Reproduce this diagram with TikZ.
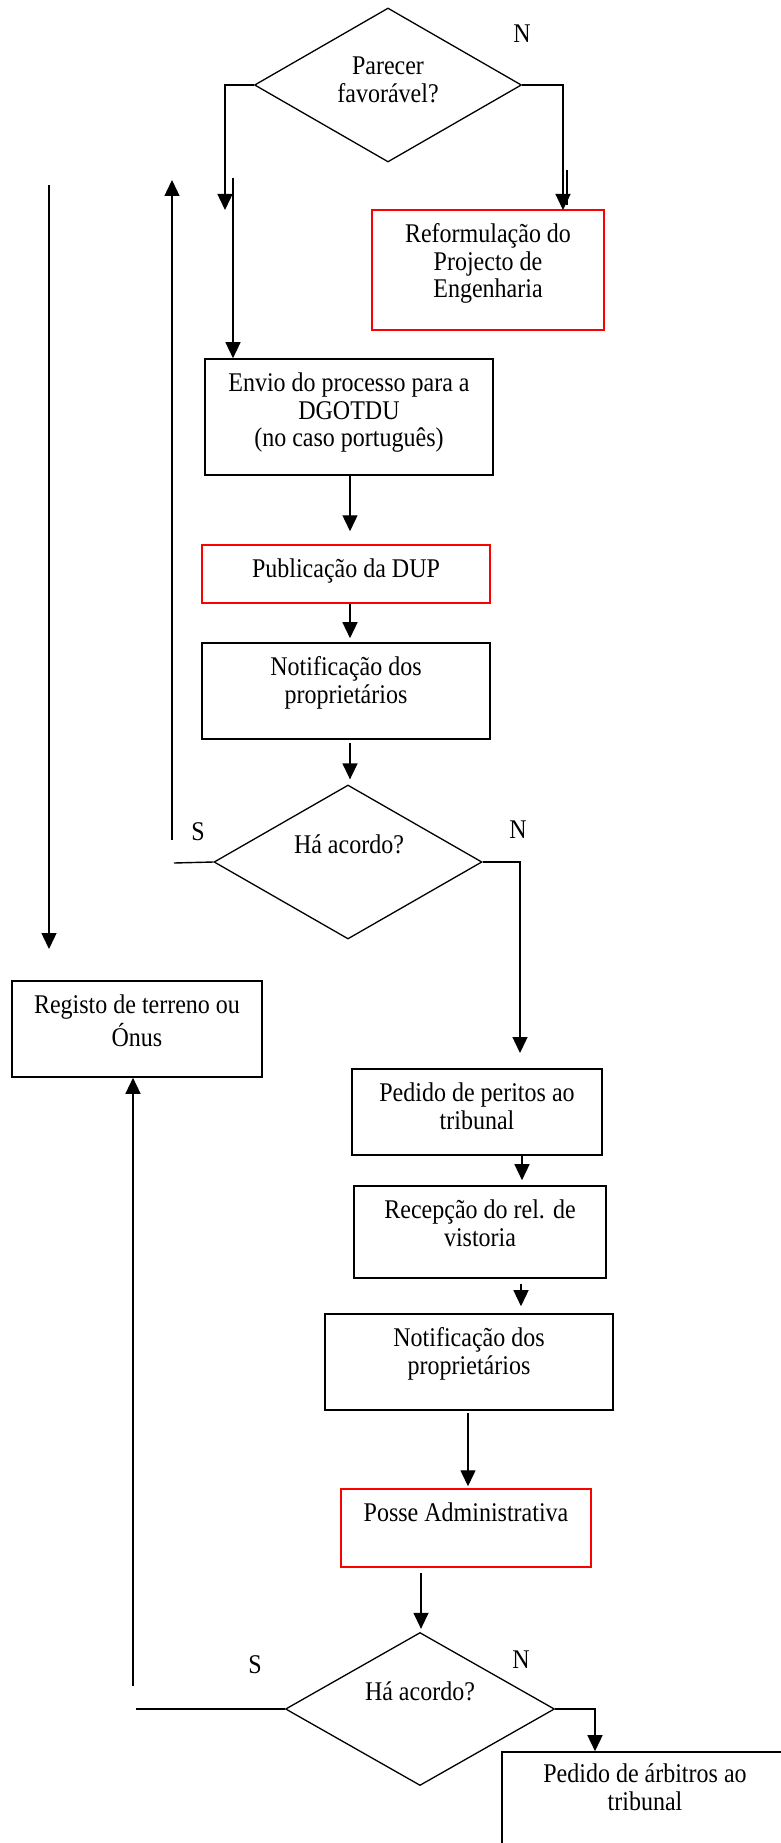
\documentclass[tikz,border=0pt]{standalone}
\usepackage{fontspec}
\setmainfont[FakeStretch=0.889]{Liberation Serif}
\usetikzlibrary{shapes.geometric,arrows.meta}
\begin{document}
\begin{tikzpicture}[x=1pt,y=-1pt,
  font=\fontsize{27}{27.6}\selectfont,
  stepbox/.style={draw=black,line width=1.6pt,inner sep=0pt},
  redbox/.style={draw=red,line width=1.5pt,inner sep=0pt},
  decision/.style={diamond,draw=black,line width=1.3pt,inner sep=0pt,aspect=1.73},
  txt/.style={inner sep=0pt,align=center,anchor=north},
  lbl/.style={inner sep=0pt,anchor=base},
  conn/.style={line width=1.4pt},
  arr/.style={conn,-{Triangle[length=16pt,width=15pt]}}]
\useasboundingbox (0,0) rectangle (781,1843);
\clip (0,0) rectangle (781,1843);

% decisions
\node[decision,minimum width=267pt,minimum height=154pt] (d1) at (388,85) {};
\node[decision,minimum width=268pt,minimum height=154pt] (d2) at (348,862) {};
\node[decision,minimum width=269pt,minimum height=153pt] (d3) at (420,1709) {};
\node[txt] (d1t) at (388,55) {\strut Parecer\\favorável?};
\node[lbl] (d2t) at (349,853) {Há acordo?};
\node[lbl] (d3t) at (420,1700) {Há acordo?};

% branch labels
\node[lbl] (n1) at (522,43) {N};
\node[lbl] (s2) at (198,840) {S};
\node[lbl] (n2) at (518,838) {N};
\node[lbl] (s3) at (255,1673) {S};
\node[lbl] (n3) at (521,1668) {N};

% process boxes
\node[redbox,minimum width=232pt,minimum height=120pt] (refo) at (488,270) {};
\node[stepbox,minimum width=288pt,minimum height=116pt] (envio) at (349,417) {};
\node[redbox,minimum width=288pt,minimum height=58pt] (pub) at (346,574) {};
\node[stepbox,minimum width=288pt,minimum height=96pt] (notif) at (346,691) {};
\node[stepbox,minimum width=250pt,minimum height=96pt] (registo) at (137,1029) {};
\node[stepbox,minimum width=250pt,minimum height=86pt] (peritos) at (477,1112) {};
\node[stepbox,minimum width=252pt,minimum height=92pt] (recep) at (480,1232) {};
\node[stepbox,minimum width=288pt,minimum height=96pt] (notifb) at (469,1362) {};
\node[redbox,minimum width=250pt,minimum height=78pt] (posse) at (466,1528) {};
\node[stepbox,minimum width=288pt,minimum height=96pt] (arb) at (646,1800) {};

% box texts
\node[txt] (refot) at ([yshift=-14pt]refo.north) {\strut Reformulação do\\Projecto de\\Engenharia};
\node[txt] (enviot) at ([yshift=-14pt]envio.north) {\strut Envio do processo para a\\DGOTDU\\(no caso português)};
\node[txt] (pubt) at ([yshift=-14pt]pub.north) {\strut Publicação da DUP};
\node[txt] (notift) at ([yshift=-14pt]notif.north) {\strut Notificação dos\\proprietários};
\node[txt] (registot) at ([yshift=-14pt]registo.north) {\strut Registo de terreno ou\\Ónus};
\node[txt] (peritost) at ([yshift=-14pt]peritos.north) {\strut Pedido de peritos ao\\tribunal};
\node[txt] (recept) at ([yshift=-14pt]recep.north) {\strut Recepção do rel. de\\vistoria};
\node[txt] (notifbt) at ([yshift=-14pt]notifb.north) {\strut Notificação dos\\proprietários};
\node[txt] (posset) at ([yshift=-14pt]posse.north) {\strut Posse Administrativa};
\node[txt] (arbt) at (645,1763) {\strut Pedido de árbitros ao\\tribunal};

% free ends of connectors
\coordinate (c1) at (225,210);
\coordinate (c2) at (233,178);
\coordinate (c3) at (563,210);
\coordinate (c3a) at (567,170);
\coordinate (c3b) at (567,205);
\coordinate (c4) at (520,1053);
\coordinate (c5) at (174,863);
\coordinate (c6) at (172,840);
\coordinate (c7) at (172,180);
\coordinate (c8) at (49,185);
\coordinate (c9) at (49,949);
\coordinate (kx) at (522,0);
\coordinate (lx) at (521,0);
\coordinate (c10) at (136,1709);
\coordinate (c11) at (133,1686);
\coordinate (c12) at (595,0);

% connectors
\draw[arr] (d1.west) -| (c1);
\draw[arr] (c2) -- (c2 |- envio.north);
\draw[arr] (d1.east) -| (c3);
\draw[conn] (c3a) -- (c3b);
\draw[arr,shorten >=13pt] ([xshift=1pt]envio.south) -- ([xshift=1pt]envio.south |- pub.north);
\draw[arr,shorten >=4pt] ([xshift=4pt]pub.south) -- ([xshift=4pt]pub.south |- notif.north);
\draw[arr,shorten <=3pt,shorten >=5pt] ([xshift=2pt]d2.north |- notif.south) -- ([xshift=2pt]d2.north);
\draw[arr] (d2.east) -| (c4);
\draw[conn] (d2.west) -- (c5);
\draw[arr] (c6) -- (c7);
\draw[arr] (c8) -- (c9);
\draw[arr,shorten >=5pt] (peritos.south -| kx) -- (recep.north -| kx);
\draw[arr,shorten <=5pt,shorten >=7pt] (recep.south -| lx) -- (notifb.north -| lx);
\draw[arr,shorten <=2pt,shorten >=2pt] ([xshift=-1pt]notifb.south) -- ([xshift=-1pt]notifb.south |- posse.north);
\draw[arr,shorten <=5pt,shorten >=3pt] ([xshift=1pt]d3.north |- posse.south) -- ([xshift=1pt]d3.north);
\draw[conn] (d3.west) -- (c10);
\draw[arr] (c11) -- (c11 |- registo.south);
\draw[arr] (d3.east) -| (c12 |- arb.north);
\end{tikzpicture}
\end{document}
